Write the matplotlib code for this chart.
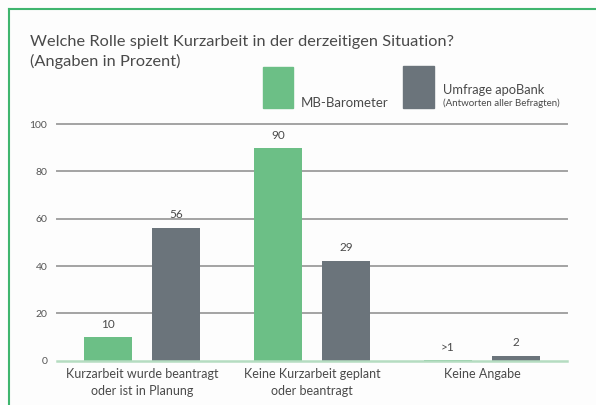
import matplotlib
matplotlib.use("Agg")
import matplotlib.pyplot as plt
from matplotlib.patches import Rectangle
from matplotlib.lines import Line2D
import numpy as np

plt.rcParams['font.family'] = ['Lato', 'DejaVu Sans']

categories = ["Kurzarbeit wurde beantragt\noder ist in Planung",
              "Keine Kurzarbeit geplant\noder beantragt",
              "Keine Angabe"]
series_names = ["MB-Barometer", "Umfrage apoBank"]
mb_values = [10, 90, 0.4]
apo_values = [56, 42, 2]
mb_labels = ["10", "90", ">1"]
apo_labels = ["56", "29", "2"]
yticks = [0, 20, 40, 60, 80, 100]

GREEN = "#6cbf86"
GRAY = "#6b747b"
TEXT = "#4a4a4a"
BORDER = "#3fb56e"

fig = plt.figure(figsize=(5.96, 4.05), dpi=100)
fig.patch.set_facecolor("#fdfdfd")

W, H = 596, 405
def fx(px): return px / W
def fy(py): return 1 - py / H

ax = fig.add_axes([fx(57), fy(360.7), fx(567) - fx(57), fy(124) - fy(360.7)])
ax.set_facecolor("none")
ax.set_xlim(-0.5, 2.5)
ax.set_ylim(0, 100)
for s in ax.spines.values():
    s.set_visible(False)

for t in yticks:
    if t == 0:
        ax.axhline(t, color="#b5dcc1", lw=1.8, zorder=3, clip_on=False)
    else:
        ax.axhline(t, color="#a3a3a3", lw=1.4, zorder=1, clip_on=False)

x = np.arange(len(categories))
bw = 0.282
off = 0.2
b1 = ax.bar(x - off, mb_values, bw, color=GREEN, zorder=2)
b2 = ax.bar(x + off, apo_values, bw, color=GRAY, zorder=2)

for rect, lab in zip(b1, mb_labels):
    ax.annotate(lab, (rect.get_x() + rect.get_width() / 2, rect.get_height()),
                xytext=(0, 9), textcoords="offset points", ha="center", va="center",
                fontsize=8.5, color=TEXT)
for rect, lab in zip(b2, apo_labels):
    ax.annotate(lab, (rect.get_x() + rect.get_width() / 2, rect.get_height()),
                xytext=(0, 10), textcoords="offset points", ha="center", va="center",
                fontsize=8.5, color=TEXT)

ax.set_yticks(yticks)
ax.set_yticklabels([str(t) for t in yticks], fontsize=7.5, color="#555555")
ax.tick_params(axis="y", length=0, pad=7)
ax.set_xticks(x)
ax.set_xticklabels(categories, fontsize=9, color=TEXT, linespacing=1.5)
ax.tick_params(axis="x", length=0, pad=5)

# title
fig.text(fx(30), fy(46), "Welche Rolle spielt Kurzarbeit in der derzeitigen Situation?",
         fontsize=11.8, color=TEXT, ha="left", va="baseline")
fig.text(fx(30), fy(66), "(Angaben in Prozent)",
         fontsize=11.8, color=TEXT, ha="left", va="baseline")

# legend
fig.patches.append(Rectangle((fx(263), fy(108)), fx(293) - fx(263), fy(67) - fy(108),
                             transform=fig.transFigure, color=GREEN, figure=fig))
fig.patches.append(Rectangle((fx(403), fy(108)), fx(434) - fx(403), fy(66) - fy(108),
                             transform=fig.transFigure, color=GRAY, figure=fig))
fig.text(fx(301), fy(107), series_names[0], fontsize=9.5, color=TEXT, ha="left", va="baseline")
fig.text(fx(443), fy(94), series_names[1], fontsize=9.3, color=TEXT, ha="left", va="baseline")
fig.text(fx(443), fy(106), "(Antworten aller Befragten)", fontsize=7, color=TEXT,
         ha="left", va="baseline")

# border
fig.lines.append(Line2D([fx(9), 1], [fy(9), fy(9)], transform=fig.transFigure,
                        color=BORDER, lw=1.5, figure=fig))
fig.lines.append(Line2D([fx(9), fx(9)], [0, fy(9)], transform=fig.transFigure,
                        color=BORDER, lw=1.5, figure=fig))

fig.savefig("out.png", dpi=100, facecolor=fig.get_facecolor())
